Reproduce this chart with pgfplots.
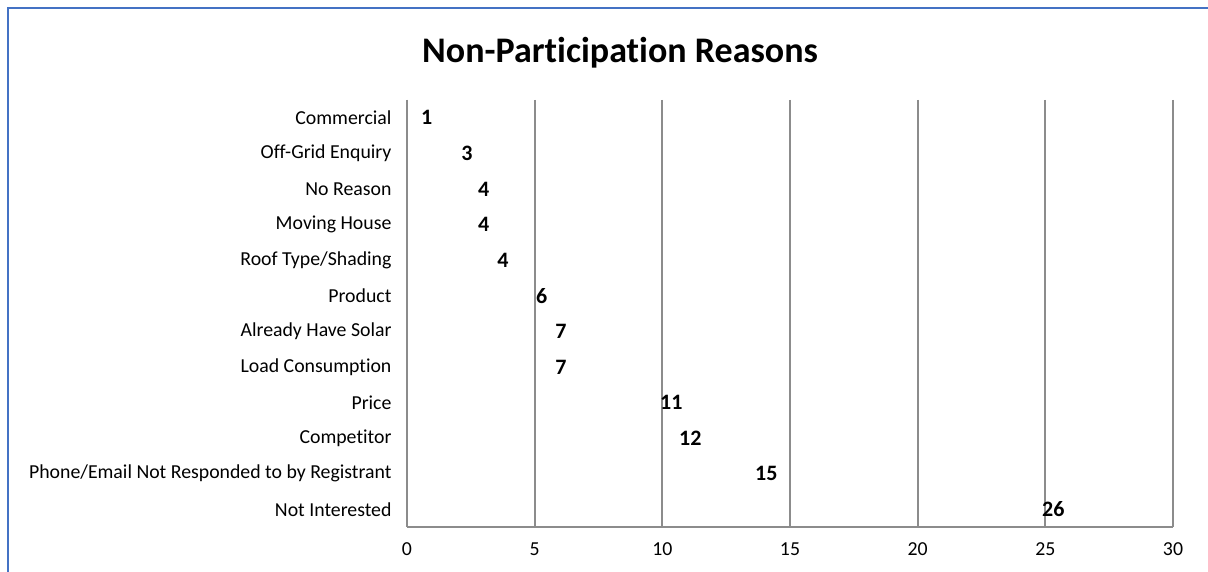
\documentclass[border=0pt]{standalone}
\usepackage{pgfplots}
\pgfplotsset{compat=1.18}
\usepackage{pgfplotstable}
\usepackage{fontspec}
\setmainfont{Carlito}[Ligatures=NoCommon]
\definecolor{gridgray}{HTML}{8C8C8C}
\definecolor{frameblue}{HTML}{4472C4}
\pgfplotstableread{
idx pos val
0 0.55 1
1 2.12 3
2 2.78 4
3 2.78 4
4 3.53 4
5 5.05 6
6 5.80 7
7 5.80 7
8 9.91 11
9 10.65 12
10 13.63 15
11 24.87 26
}\labels
\begin{document}
\begin{tikzpicture}
\useasboundingbox (0,0) rectangle (1208pt,572pt);
\fill[white] (0,0) rectangle (1208pt,572pt);
\draw[frameblue, line width=2pt] (8pt,0) -- (8pt,564pt) -- (1208pt,564pt);
\node[font=\fontsize{36}{40}\selectfont\bfseries] at (620pt,519pt) {Non-Participation Reasons};
\begin{axis}[
  at={(407pt,45pt)}, anchor=south west,
  scale only axis, width=766pt, height=427pt,
  xmin=0, xmax=30, xtick={0,5,...,30},
  ymin=-0.5, ymax=11.5, y dir=reverse,
  ytick={0,...,11},
  yticklabels={Commercial,Off-Grid Enquiry,No Reason,Moving House,Roof Type/Shading,Product,Already Have Solar,Load Consumption,Price,Competitor,Phone/Email Not Responded to by Registrant,Not Interested},
  axis lines*=left,
  axis line style={gridgray, line width=2pt, -},
  xmajorgrids, major grid style={gridgray, line width=2pt},
  major tick length=0pt,
  tick label style={font=\fontsize{19.8}{24}\selectfont},
  /pgf/number format/assume math mode=true,
  yticklabel style={xshift=-12pt},
  xticklabel style={yshift=-12pt},
  clip=false,
]
\addplot[draw=none, mark=none, nodes near coords, point meta=explicit symbolic,
  nodes near coords style={anchor=west, inner sep=0pt, font=\fontsize{22}{26}\selectfont\bfseries}]
  table[x=pos, y=idx, meta=val] {\labels};
\end{axis}
\end{tikzpicture}
\end{document}
